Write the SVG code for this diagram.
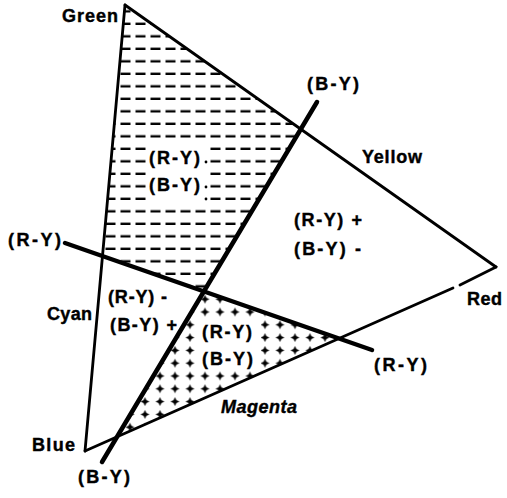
<svg xmlns="http://www.w3.org/2000/svg" width="507" height="498" viewBox="0 0 507 498">
  <style>
    .edge { stroke: #000; stroke-width: 2.8; fill: none; stroke-linecap: round; }
    .axis { stroke: #000; stroke-width: 4.5; fill: none; stroke-linecap: round; }
    .lbl { font-family: "Liberation Sans", Arial, sans-serif; font-weight: bold; font-size: 18px; fill: #000; stroke: #000; stroke-width: 0.4; }
    .it { font-style: italic; }
  </style>
  <defs>
    <pattern id="dashes" patternUnits="userSpaceOnUse" x="120" y="0" width="15" height="12.5">
      <line x1="0.5" y1="11.5" x2="10.5" y2="11.5" stroke="#000" stroke-width="2.7"/>
    </pattern>
    <pattern id="pluses" patternUnits="userSpaceOnUse" x="152.5" y="305.6" width="15" height="12.8">
      <polygon points="7.5,1.9 8.9,5.0 12.0,6.4 8.9,7.8 7.5,10.9 6.1,7.8 3.0,6.4 6.1,5.0" fill="#000"/>
    </pattern>
  </defs>
  <rect width="507" height="498" fill="#fff"/>

  <g id="region-hatched">
    <polygon points="125,5 300.8,129.2 203.9,291.4 102.5,256" fill="url(#dashes)"/>
    <rect x="147" y="144" width="63" height="60" fill="#fff"/>
    <circle cx="206" cy="162" r="1.4" fill="#000"/>
    <circle cx="206" cy="187" r="1.4" fill="#000"/>
    <circle cx="206" cy="199" r="1.4" fill="#000"/>
  </g>
  <g id="region-plus">
    <polygon points="203.9,291.4 337.5,338.3 117,436.5" fill="url(#pluses)"/>
    <rect x="197" y="318" width="64" height="52" fill="#fff"/>
  </g>

  <g id="triangle">
    <line class="edge" x1="125" y1="5" x2="85" y2="451" stroke-width="3"/>
    <line class="edge" x1="125" y1="5" x2="496" y2="267"/>
    <line class="edge" x1="496" y1="267" x2="460" y2="285"/>
    <line class="edge" x1="453" y1="288" x2="85" y2="451"/>
  </g>

  <g id="connectors">
    <line class="axis" x1="317" y1="102" x2="102" y2="462"/>
    <line class="axis" x1="65" y1="243" x2="372" y2="350"/>
  </g>

  <g id="labels">
    <text class="lbl" x="62" y="22" textLength="56">Green</text>
    <text class="lbl" x="307" y="90" textLength="52">(B-Y)</text>
    <text class="lbl" x="362" y="163" textLength="60">Yellow</text>
    <text class="lbl" x="149" y="164" textLength="51">(R-Y)</text>
    <text class="lbl" x="149" y="191" textLength="51">(B-Y)</text>
    <text class="lbl" x="294" y="226" textLength="68">(R-Y) +</text>
    <text class="lbl" x="294" y="255" textLength="67">(B-Y) -</text>
    <text class="lbl" x="8" y="246" textLength="53">(R-Y)</text>
    <text class="lbl" x="108" y="303" textLength="59">(R-Y) -</text>
    <text class="lbl" x="110" y="331" textLength="67">(B-Y) +</text>
    <text class="lbl" x="47" y="320" textLength="45">Cyan</text>
    <text class="lbl" x="202" y="338" textLength="50">(R-Y)</text>
    <text class="lbl" x="202" y="365" textLength="51">(B-Y)</text>
    <text class="lbl it" x="221" y="413" textLength="76">Magenta</text>
    <text class="lbl" x="374" y="371" textLength="53">(R-Y)</text>
    <text class="lbl" x="467" y="305" textLength="35">Red</text>
    <text class="lbl" x="32" y="451" textLength="43">Blue</text>
    <text class="lbl" x="78" y="483" textLength="52">(B-Y)</text>
  </g>
</svg>
